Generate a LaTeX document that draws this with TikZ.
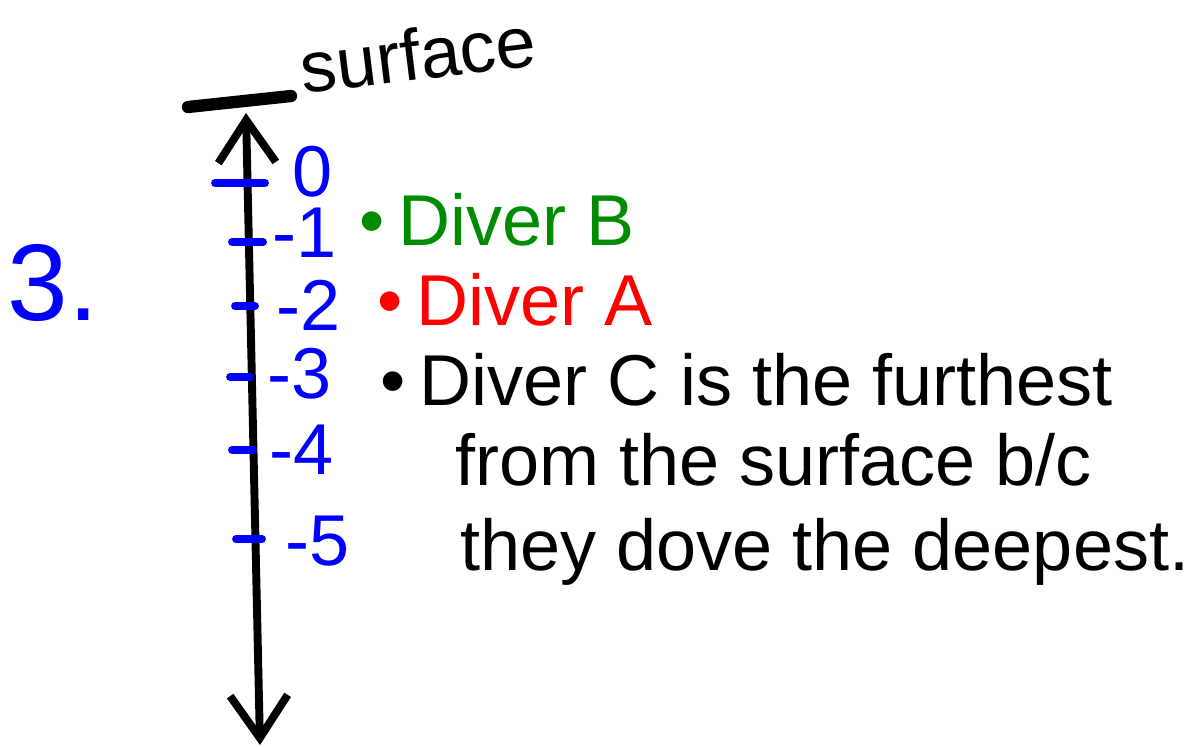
\documentclass[tikz,border=0pt]{standalone}
\usepackage{fontspec}
\setmainfont{Liberation Sans}
\usetikzlibrary{arrows.meta}
\definecolor{penblue}{RGB}{0,0,255}
\definecolor{pengreen}{RGB}{0,140,0}
\definecolor{penred}{RGB}{255,0,0}
\newcommand{\pen}[1]{\fontsize{#1}{#1}\selectfont}

\begin{document}
\begin{tikzpicture}[x=0.02cm, y=-0.02cm,
  ink/.style={line width=4.5pt, line cap=round},
  barb/.tip={Straight Barb[length=0.85cm, width=1.15cm]},
  axis/.style={ink, barb-barb},
  tick/.style={ink, penblue},
  num/.style={font=\pen{41}, text=penblue, inner sep=0pt},
  note/.style={font=\pen{41}, inner sep=0pt, anchor=base west}]
\useasboundingbox (0,0) rectangle (1201,747);
% surface and the number line
\coordinate (sl) at (188,107);
\coordinate (sr) at (291,96);
\draw[ink, line width=7pt] (sl) -- (sr);
\node[font=\pen{41}, inner sep=0pt, rotate=7] (surf) at (418,54) {surface};
\coordinate (top) at (246,113);
\coordinate (bot) at (260,745);
\draw[axis] (top) -- (bot);
% ticks and depths
\foreach \ty/\tl/\tr/\lx/\ly/\lab [count=\i] in
  {183/215/265/313/172/0, 242/232/263/305/233/-1, 306/235/255/309/305/-2,
   377/230/250/300/374/-3, 450/232/253/302/450/-4, 539/236/262/318/541/-5}
{
  \coordinate (tl\i) at (\tl,\ty);
  \coordinate (tr\i) at (\tr,\ty);
  \draw[tick] (tl\i) -- (tr\i);
  \node[num] (d\i) at (\lx,\ly) {\lab};
}
\node[font=\pen{62}, text=penblue, inner sep=0pt] (q) at (53,283) {3.};
% divers
\node[note, text=pengreen] (dB) at (359,245) {•\hspace{0.2em}Diver B};
\node[note, text=penred]   (dA) at (377,325) {•\hspace{0.2em}Diver A};
\node[note] (dC) at (380,405) {•\hspace{0.2em}Diver C is the furthest};
\node[note] (l2) at (455,485) {from the surface b/c};
\node[note] (l3) at (460,570) {they dove the deepest.};
\end{tikzpicture}
\end{document}
